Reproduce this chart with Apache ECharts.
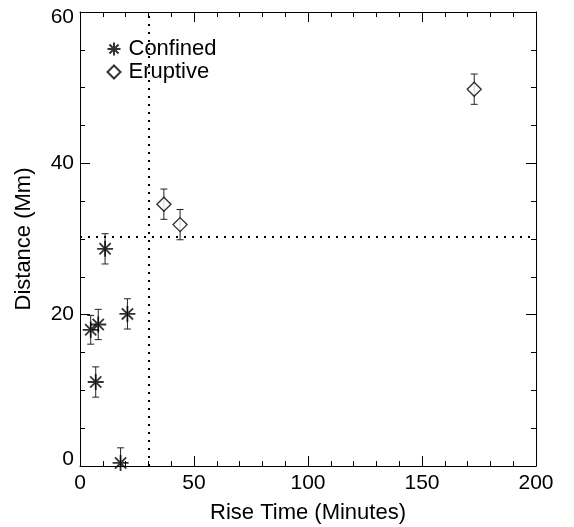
<!DOCTYPE html>
<html><head><meta charset="utf-8">
<script src="https://cdn.jsdelivr.net/npm/echarts@6/dist/echarts.min.js"></script>
<style>html,body{margin:0;padding:0;background:#fff}#c{width:574px;height:527px}</style>
</head><body><div id="c"></div>
<script>
// Data
const confinedX = [11.0, 4.7, 8.0, 20.8, 6.9, 17.8];
const confinedY = [28.7, 18.0, 18.7, 20.1, 11.1, 0.4];
const confinedErr = [2.0, 1.9, 2.0, 2.0, 2.0, 2.0];
const eruptiveX = [36.8, 43.9, 172.9];
const eruptiveY = [34.6, 31.9, 49.8];
const eruptiveErr = [2.0, 2.0, 2.0];
const thresholdX = 30;
const thresholdY = 30.3;
const xTicks = [0, 50, 100, 150, 200];
const yTicks = [0, 20, 40, 60];

const FONT = 'Liberation Sans, Arial, sans-serif';
const FS = 21;
const asterisk = 'path://M0,5L10,5M5,0L5,10M1.5,1.5L8.5,8.5M8.5,1.5L1.5,8.5';
const diamond = 'path://M5,0L10,5L5,10L0,5Z';

function errData(xs, ys, es) { return xs.map((x, i) => [x, ys[i], es[i]]); }
function errRender(params, api) {
  const x = api.value(0), y = api.value(1), e = api.value(2);
  const top = api.coord([x, y + e]);
  const bot = api.coord([x, Math.max(y - e, 0)]);
  const botRaw = api.coord([x, y - e]);
  const cap = 3.5;
  const st = {stroke: '#222', lineWidth: 1};
  const children = [
    {type: 'line', shape: {x1: top[0], y1: top[1], x2: bot[0], y2: bot[1]}, style: st},
    {type: 'line', shape: {x1: top[0] - cap, y1: top[1], x2: top[0] + cap, y2: top[1]}, style: st}
  ];
  if (y - e >= 0) children.push({type: 'line', shape: {x1: botRaw[0] - cap, y1: botRaw[1], x2: botRaw[0] + cap, y2: botRaw[1]}, style: st});
  return {type: 'group', children};
}

function axis(extra, split) {
  return Object.assign({
    type: 'value',
    axisLine: {show: true, onZero: false, lineStyle: {color: '#000', width: 1}},
    axisTick: {show: true, inside: true, length: 10, lineStyle: {color: '#000'}},
    minorTick: {show: true, splitNumber: split, length: 5, lineStyle: {color: '#000'}},
    splitLine: {show: false}
  }, extra);
}

const yMin = yTicks[0], yMax = yTicks[yTicks.length - 1];
const chart = echarts.init(document.getElementById('c'), null, {renderer: 'canvas'});
chart.setOption({
  animation: false,
  backgroundColor: '#fff',
  grid: {left: 80, right: 38, top: 12, bottom: 61, containLabel: false, outerBoundsMode: 'none'},
  legend: {
    left: 100, top: 33, orient: 'vertical', itemGap: 1, itemWidth: 13, itemHeight: 13,
    textStyle: {fontFamily: FONT, fontSize: 22, color: '#000', padding: [0, 0, 0, 3]},
    data: ['Confined', 'Eruptive']
  },
  xAxis: [
    axis({min: xTicks[0], max: xTicks[xTicks.length - 1], interval: 50,
      name: 'Rise Time (Minutes)', nameLocation: 'middle', nameGap: 36,
      nameTextStyle: {fontFamily: FONT, fontSize: 22, color: '#000'},
      axisLabel: {fontFamily: FONT, fontSize: FS, color: '#000', margin: 7}}, 5),
    axis({position: 'top', min: 0, max: 200, interval: 50, axisLabel: {show: false}}, 5)
  ],
  yAxis: [
    axis({min: yMin, max: yMax, interval: 20,
      name: 'Distance (Mm)', nameLocation: 'middle', nameGap: 45,
      nameTextStyle: {fontFamily: FONT, fontSize: 22, color: '#000'},
      axisLabel: {fontFamily: FONT, fontSize: FS, color: '#000', margin: 6,
        formatter: v => v === yMax ? '{t|' + v + '}' : (v === yMin ? '{b|' + v + '}' : '{m|' + v + '}'),
        rich: {
          t: {fontFamily: FONT, fontSize: FS, color: '#000', padding: [10, 0, 0, 0]},
          b: {fontFamily: FONT, fontSize: FS, color: '#000', padding: [0, 0, 13, 0]},
          m: {fontFamily: FONT, fontSize: FS, color: '#000'}
        }}}, 4),
    axis({position: 'right', min: 0, max: 60, interval: 20, axisLabel: {show: false}}, 4)
  ],
  series: [
    {type: 'custom', renderItem: errRender, data: errData(confinedX, confinedY, confinedErr), z: 2, silent: true},
    {type: 'custom', renderItem: errRender, data: errData(eruptiveX, eruptiveY, eruptiveErr), z: 2, silent: true},
    {name: 'Confined', type: 'scatter', symbol: asterisk, symbolSize: 16,
      itemStyle: {color: 'none', borderColor: '#000', borderWidth: 1.8},
      data: confinedX.map((x, i) => [x, confinedY[i]]), z: 3,
      markLine: {silent: true, symbol: 'none', label: {show: false},
        lineStyle: {color: '#000', type: [2, 6], width: 2},
        data: [{xAxis: thresholdX}, {yAxis: thresholdY}]}},
    {name: 'Eruptive', type: 'scatter', symbol: diamond, symbolSize: 14,
      itemStyle: {color: '#fff', borderColor: '#000', borderWidth: 1.4},
      data: eruptiveX.map((x, i) => [x, eruptiveY[i]]), z: 3}
  ]
});
</script></body></html>
